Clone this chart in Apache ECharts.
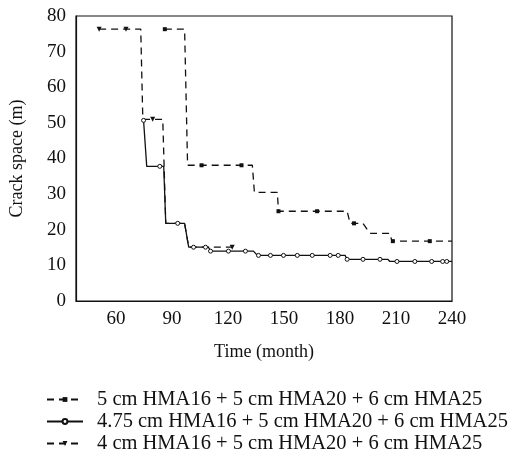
<!DOCTYPE html>
<html><head><meta charset="utf-8">
<script src="https://cdn.jsdelivr.net/npm/echarts@6/dist/echarts.min.js"></script>
<style>html,body{margin:0;padding:0;background:#fff}#c{width:516px;height:466px}</style>
</head><body><div id="c"></div>
<script>
const seriesNames = [
  '5 cm HMA16 + 5 cm HMA20 + 6 cm HMA25',
  '4.75 cm HMA16 + 5 cm HMA20 + 6 cm HMA25',
  '4 cm HMA16 + 5 cm HMA20 + 6 cm HMA25'
];
const xTickLabels = [60, 90, 120, 150, 180, 210, 240];
const yTickLabels = [0, 10, 20, 30, 40, 50, 60, 70, 80];

// Series 1: 5 cm HMA16 — line path and measured points
const s1Path = [[86.1,76.3],[96.7,76.3],[98.3,38.1],[133.0,38.1],[134.1,30.5],[146.4,30.5],[147.0,25.2],[183.8,25.2],[185.4,21.8],[192.3,21.8],[196.0,19.0],[206.7,19.0],[207.8,16.8],[240,16.8]];
const s1Marks = [[86.1,76.3],[105.8,38.1],[127.2,38.1],[147.0,25.2],[167.7,25.2],[187.5,21.8],[208.3,16.8],[228.1,16.8]];

// Series 2: 4.75 cm HMA16
const s2Path = [[74.7,50.7],[76.4,37.8],[85.5,37.8],[86.6,21.8],[96.7,21.8],[98.9,15.1],[109.5,15.1],[110.6,14.0],[133.6,14.0],[135.7,12.8],[182.7,12.8],[183.8,11.7],[205.6,11.7],[206.7,11.1],[240,11.1]];
const s2Marks = [[74.7,50.7],[83.4,37.8],[93.0,21.8],[101.5,15.1],[107.9,15.1],[110.6,14.0],[120.2,14.0],[129.3,14.0],[136.3,12.8],[142.7,12.8],[149.7,12.8],[157.1,12.8],[165.1,12.8],[174.7,12.8],[179.0,12.8],[183.8,11.7],[192.3,11.7],[201.4,11.7],[210.5,11.1],[220.1,11.1],[229.1,11.1],[235.0,11.1],[237.2,11.1]];

// Series 3: 4 cm HMA16
const s3Path = [[50.9,76.3],[73.2,76.3],[74.3,51.0],[85.0,51.0],[86.6,21.8],[96.7,21.8],[98.9,15.1],[123.0,15.1]];
const s3Marks = [[50.9,76.3],[65.3,76.3],[79.6,51.0],[122.2,15.1]];

function build(path, marks) {
  const pts = path.map(p => ({value: p, symbol: 'none'}))
    .concat(marks.map(p => ({value: p})));
  pts.sort((a, b) => a.value[0] - b.value[0]);
  return pts;
}

const font = 'Liberation Serif';
const chart = echarts.init(document.getElementById('c'), null, {renderer: 'canvas'});
chart.setOption({
  animation: false,
  backgroundColor: '#fff',
  textStyle: {fontFamily: font, color: '#111'},
  grid: {left: 75, right: 64, top: 16, bottom: 165, show: true, borderColor: '#111', borderWidth: 1.2, backgroundColor: 'transparent'},
  xAxis: {
    type: 'value', min: 38.5, max: 240,
    name: 'Time (month)', nameLocation: 'middle', nameGap: 42,
    nameTextStyle: {fontFamily: font, fontSize: 18, color: '#111'},
    axisLine: {show: true, lineStyle: {color: '#111', width: 1.2}},
    axisTick: {show: false},
    splitLine: {show: false},
    axisLabel: {customValues: xTickLabels, fontFamily: font, fontSize: 19, color: '#111', margin: 9}
  },
  yAxis: {
    type: 'value', min: 0, max: 80, interval: 10,
    name: 'Crack space (m)', nameLocation: 'middle', nameGap: 50,
    nameTextStyle: {fontFamily: font, fontSize: 18, color: '#111'},
    axisLine: {show: true, lineStyle: {color: '#111', width: 1.2}},
    axisTick: {show: false},
    splitLine: {show: false},
    axisLabel: {customValues: yTickLabels, fontFamily: font, fontSize: 19, color: '#111', margin: 10}
  },
  legend: {
    orient: 'vertical', left: 46, top: 389, padding: 0, height: 77,
    itemWidth: 36, itemHeight: 6, itemGap: 1,
    textStyle: {fontFamily: font, fontSize: 20.5, lineHeight: 14, color: '#111', padding: [0,0,0,9]},
    data: seriesNames
  },
  series: [
    {name: seriesNames[0], type: 'line', data: build(s1Path, s1Marks), symbol: 'rect', symbolSize: 4,
     itemStyle: {color: '#111'}, lineStyle: {color: '#111', width: 1.3, type: [7, 5]}},
    {name: seriesNames[1], type: 'line', data: build(s2Path, s2Marks), symbol: 'circle', symbolSize: 4,
     itemStyle: {color: '#fff', borderColor: '#111', borderWidth: 1}, lineStyle: {color: '#111', width: 1.3, type: 'solid'}},
    {name: seriesNames[2], type: 'line', data: build(s3Path, s3Marks), symbol: 'triangle', symbolRotate: 180, symbolSize: 5,
     itemStyle: {color: '#111'}, lineStyle: {color: '#111', width: 1.3, type: [7, 5]}}
  ]
});
</script></body></html>
